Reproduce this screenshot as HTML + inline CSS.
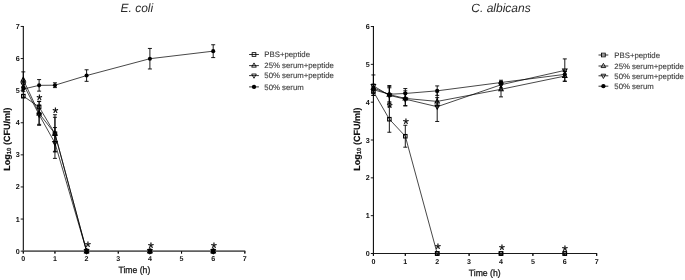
<!DOCTYPE html>
<html><head><meta charset="utf-8"><title>Growth curves</title>
<style>
html,body{margin:0;padding:0;background:#fff;}
body{width:685px;height:280px;overflow:hidden;font-family:"Liberation Sans", sans-serif;}
svg{display:block;opacity:0.999;will-change:transform;}
text{text-rendering:geometricPrecision;}
</style></head><body>
<svg width="685" height="280" viewBox="0 0 685 280">
<rect width="685" height="280" fill="#fff"/>
<path d="M23.30,26.05V251.15" stroke="#000" stroke-width="1.05" fill="none"/>
<path d="M20.70,251.15H23.30" stroke="#000" stroke-width="0.9"/>
<text x="19.70" y="253.65" font-size="7.2" font-weight="bold" text-anchor="end" fill="#111" font-family='"Liberation Sans", sans-serif'>0</text>
<path d="M20.70,219.05H23.30" stroke="#000" stroke-width="0.9"/>
<text x="19.70" y="221.55" font-size="7.2" font-weight="bold" text-anchor="end" fill="#111" font-family='"Liberation Sans", sans-serif'>1</text>
<path d="M20.70,186.95H23.30" stroke="#000" stroke-width="0.9"/>
<text x="19.70" y="189.45" font-size="7.2" font-weight="bold" text-anchor="end" fill="#111" font-family='"Liberation Sans", sans-serif'>2</text>
<path d="M20.70,154.85H23.30" stroke="#000" stroke-width="0.9"/>
<text x="19.70" y="157.35" font-size="7.2" font-weight="bold" text-anchor="end" fill="#111" font-family='"Liberation Sans", sans-serif'>3</text>
<path d="M20.70,122.75H23.30" stroke="#000" stroke-width="0.9"/>
<text x="19.70" y="125.25" font-size="7.2" font-weight="bold" text-anchor="end" fill="#111" font-family='"Liberation Sans", sans-serif'>4</text>
<path d="M20.70,90.65H23.30" stroke="#000" stroke-width="0.9"/>
<text x="19.70" y="93.15" font-size="7.2" font-weight="bold" text-anchor="end" fill="#111" font-family='"Liberation Sans", sans-serif'>5</text>
<path d="M20.70,58.55H23.30" stroke="#000" stroke-width="0.9"/>
<text x="19.70" y="61.05" font-size="7.2" font-weight="bold" text-anchor="end" fill="#111" font-family='"Liberation Sans", sans-serif'>6</text>
<path d="M20.70,26.45H23.30" stroke="#000" stroke-width="0.9"/>
<text x="19.70" y="28.95" font-size="7.2" font-weight="bold" text-anchor="end" fill="#111" font-family='"Liberation Sans", sans-serif'>7</text>
<path d="M23.30,251.15V253.55" stroke="#000" stroke-width="0.9"/>
<text x="23.30" y="260.95" font-size="7.1" font-weight="bold" text-anchor="middle" fill="#111" font-family='"Liberation Sans", sans-serif'>0</text>
<path d="M54.95,251.15V253.55" stroke="#000" stroke-width="0.9"/>
<text x="54.95" y="260.95" font-size="7.1" font-weight="bold" text-anchor="middle" fill="#111" font-family='"Liberation Sans", sans-serif'>1</text>
<path d="M86.60,251.15V253.55" stroke="#000" stroke-width="0.9"/>
<text x="86.60" y="260.95" font-size="7.1" font-weight="bold" text-anchor="middle" fill="#111" font-family='"Liberation Sans", sans-serif'>2</text>
<path d="M118.25,251.15V253.55" stroke="#000" stroke-width="0.9"/>
<text x="118.25" y="260.95" font-size="7.1" font-weight="bold" text-anchor="middle" fill="#111" font-family='"Liberation Sans", sans-serif'>3</text>
<path d="M149.90,251.15V253.55" stroke="#000" stroke-width="0.9"/>
<text x="149.90" y="260.95" font-size="7.1" font-weight="bold" text-anchor="middle" fill="#111" font-family='"Liberation Sans", sans-serif'>4</text>
<path d="M181.55,251.15V253.55" stroke="#000" stroke-width="0.9"/>
<text x="181.55" y="260.95" font-size="7.1" font-weight="bold" text-anchor="middle" fill="#111" font-family='"Liberation Sans", sans-serif'>5</text>
<path d="M213.20,251.15V253.55" stroke="#000" stroke-width="0.9"/>
<text x="213.20" y="260.95" font-size="7.1" font-weight="bold" text-anchor="middle" fill="#111" font-family='"Liberation Sans", sans-serif'>6</text>
<path d="M244.85,251.15V253.55" stroke="#000" stroke-width="0.9"/>
<text x="244.85" y="260.95" font-size="7.1" font-weight="bold" text-anchor="middle" fill="#111" font-family='"Liberation Sans", sans-serif'>7</text>
<path d="M23.30,89.05 L39.12,85.35 L54.95,85.19 L86.60,75.56 L149.90,58.71 L213.20,51.17" fill="none" stroke="#000" stroke-width="0.72" stroke-linejoin="round"/>
<path d="M23.30,96.11 L39.12,107.02 L54.95,133.66 L86.60,251.15" fill="none" stroke="#000" stroke-width="0.72" stroke-linejoin="round"/>
<path d="M23.30,79.74 L39.12,113.44 L54.95,133.66 L86.60,251.15" fill="none" stroke="#000" stroke-width="0.72" stroke-linejoin="round"/>
<path d="M23.30,84.23 L39.12,114.72 L54.95,142.97 L86.60,251.15" fill="none" stroke="#000" stroke-width="0.72" stroke-linejoin="round"/>
<path d="M23.30,86.48V91.61M21.30,86.48H25.30M21.30,91.61H25.30" fill="none" stroke="#000" stroke-width="0.9"/>
<path d="M39.12,79.58V91.13M37.12,79.58H41.12M37.12,91.13H41.12" fill="none" stroke="#000" stroke-width="0.9"/>
<path d="M54.95,82.79V87.60M52.95,82.79H56.95M52.95,87.60H56.95" fill="none" stroke="#000" stroke-width="0.9"/>
<path d="M86.60,69.79V81.34M84.60,69.79H88.60M84.60,81.34H88.60" fill="none" stroke="#000" stroke-width="0.9"/>
<path d="M149.90,48.44V68.98M147.90,48.44H151.90M147.90,68.98H151.90" fill="none" stroke="#000" stroke-width="0.9"/>
<path d="M213.20,44.75V57.59M211.20,44.75H215.20M211.20,57.59H215.20" fill="none" stroke="#000" stroke-width="0.9"/>
<path d="M23.30,94.50V97.71M21.30,94.50H25.30M21.30,97.71H25.30" fill="none" stroke="#000" stroke-width="0.9"/>
<path d="M39.12,101.24V112.80M37.12,101.24H41.12M37.12,112.80H41.12" fill="none" stroke="#000" stroke-width="0.9"/>
<path d="M54.95,117.29V151.32M52.95,117.29H56.95M52.95,151.32H56.95" fill="none" stroke="#000" stroke-width="0.9"/>
<path d="M23.30,71.87V87.60M21.30,71.87H25.30M21.30,87.60H25.30" fill="none" stroke="#000" stroke-width="0.9"/>
<path d="M39.12,101.56V125.32M37.12,101.56H41.12M37.12,125.32H41.12" fill="none" stroke="#000" stroke-width="0.9"/>
<path d="M54.95,114.72V151.96M52.95,114.72H56.95M52.95,151.96H56.95" fill="none" stroke="#000" stroke-width="0.9"/>
<path d="M23.30,81.02V87.44M21.30,81.02H25.30M21.30,87.44H25.30" fill="none" stroke="#000" stroke-width="0.9"/>
<path d="M39.12,105.09V124.35M37.12,105.09H41.12M37.12,124.35H41.12" fill="none" stroke="#000" stroke-width="0.9"/>
<path d="M54.95,127.56V158.38M52.95,127.56H56.95M52.95,158.38H56.95" fill="none" stroke="#000" stroke-width="0.9"/>
<circle cx="23.30" cy="89.05" r="2.05" fill="#000"/>
<circle cx="39.12" cy="85.35" r="2.05" fill="#000"/>
<circle cx="54.95" cy="85.19" r="2.05" fill="#000"/>
<circle cx="86.60" cy="75.56" r="2.05" fill="#000"/>
<circle cx="149.90" cy="58.71" r="2.05" fill="#000"/>
<circle cx="213.20" cy="51.17" r="2.05" fill="#000"/>
<rect x="21.55" y="94.36" width="3.50" height="3.50" fill="none" stroke="#000" stroke-width="1.05"/>
<rect x="37.38" y="105.27" width="3.50" height="3.50" fill="none" stroke="#000" stroke-width="1.05"/>
<rect x="53.20" y="131.91" width="3.50" height="3.50" fill="none" stroke="#000" stroke-width="1.05"/>
<rect x="84.85" y="249.40" width="3.50" height="3.50" fill="none" stroke="#000" stroke-width="1.05"/>
<rect x="148.15" y="249.40" width="3.50" height="3.50" fill="none" stroke="#000" stroke-width="1.05"/>
<rect x="211.45" y="249.40" width="3.50" height="3.50" fill="none" stroke="#000" stroke-width="1.05"/>
<polygon points="23.30,77.20 25.49,81.22 21.11,81.22" fill="none" stroke="#000" stroke-width="1.05" stroke-linejoin="miter"/>
<polygon points="39.12,110.90 41.31,114.93 36.94,114.93" fill="none" stroke="#000" stroke-width="1.05" stroke-linejoin="miter"/>
<polygon points="54.95,131.13 57.14,135.15 52.76,135.15" fill="none" stroke="#000" stroke-width="1.05" stroke-linejoin="miter"/>
<polygon points="86.60,248.61 88.79,252.64 84.41,252.64" fill="none" stroke="#000" stroke-width="1.05" stroke-linejoin="miter"/>
<polygon points="149.90,248.61 152.09,252.64 147.71,252.64" fill="none" stroke="#000" stroke-width="1.05" stroke-linejoin="miter"/>
<polygon points="213.20,248.61 215.39,252.64 211.01,252.64" fill="none" stroke="#000" stroke-width="1.05" stroke-linejoin="miter"/>
<polygon points="23.30,86.77 25.49,82.74 21.11,82.74" fill="none" stroke="#000" stroke-width="1.05" stroke-linejoin="miter"/>
<polygon points="39.12,117.26 41.31,113.24 36.94,113.24" fill="none" stroke="#000" stroke-width="1.05" stroke-linejoin="miter"/>
<polygon points="54.95,145.51 57.14,141.49 52.76,141.49" fill="none" stroke="#000" stroke-width="1.05" stroke-linejoin="miter"/>
<polygon points="86.60,253.69 88.79,249.66 84.41,249.66" fill="none" stroke="#000" stroke-width="1.05" stroke-linejoin="miter"/>
<polygon points="149.90,253.69 152.09,249.66 147.71,249.66" fill="none" stroke="#000" stroke-width="1.05" stroke-linejoin="miter"/>
<polygon points="213.20,253.69 215.39,249.66 211.01,249.66" fill="none" stroke="#000" stroke-width="1.05" stroke-linejoin="miter"/>
<path d="M22.80,251.15H245.25" stroke="#606060" stroke-width="1.6" fill="none"/>
<path d="M23.30,251.15V253.55" stroke="#000" stroke-width="0.9"/>
<path d="M54.95,251.15V253.55" stroke="#000" stroke-width="0.9"/>
<path d="M86.60,251.15V253.55" stroke="#000" stroke-width="0.9"/>
<path d="M118.25,251.15V253.55" stroke="#000" stroke-width="0.9"/>
<path d="M149.90,251.15V253.55" stroke="#000" stroke-width="0.9"/>
<path d="M181.55,251.15V253.55" stroke="#000" stroke-width="0.9"/>
<path d="M213.20,251.15V253.55" stroke="#000" stroke-width="0.9"/>
<path d="M244.85,251.15V253.55" stroke="#000" stroke-width="0.9"/>
<rect x="84.40" y="248.65" width="4.4" height="5.0" rx="1.2" fill="#000"/>
<rect x="147.70" y="248.65" width="4.4" height="5.0" rx="1.2" fill="#000"/>
<rect x="211.00" y="248.65" width="4.4" height="5.0" rx="1.2" fill="#000"/>
<text x="39.40" y="105.20" font-size="15" text-anchor="middle" fill="#000" stroke="#000" stroke-width="0.2" font-family='"Liberation Sans", sans-serif'>*</text>
<text x="55.30" y="118.40" font-size="15" text-anchor="middle" fill="#000" stroke="#000" stroke-width="0.2" font-family='"Liberation Sans", sans-serif'>*</text>
<text x="87.90" y="251.90" font-size="15" text-anchor="middle" fill="#000" stroke="#000" stroke-width="0.2" font-family='"Liberation Sans", sans-serif'>*</text>
<text x="151.00" y="252.90" font-size="15" text-anchor="middle" fill="#000" stroke="#000" stroke-width="0.2" font-family='"Liberation Sans", sans-serif'>*</text>
<text x="213.80" y="253.20" font-size="15" text-anchor="middle" fill="#000" stroke="#000" stroke-width="0.2" font-family='"Liberation Sans", sans-serif'>*</text>
<text transform="translate(9.70,139.20) rotate(-90)" font-size="9" font-weight="bold" text-anchor="middle" fill="#111" stroke="#111" stroke-width="0.15" font-family='"Liberation Sans", sans-serif'>Log<tspan font-size="6" dy="1.6">10</tspan><tspan dy="-1.6"> (CFU/ml)</tspan></text>
<text x="134.40" y="272.90" font-size="9.2" text-anchor="middle" fill="#222" stroke="#222" stroke-width="0.32" font-family='"Liberation Sans", sans-serif' textLength="31.8" lengthAdjust="spacingAndGlyphs">Time (h)</text>
<text x="136.80" y="12" font-size="12" font-style="italic" text-anchor="middle" fill="#2a2a2a" font-family='"Liberation Sans", sans-serif'>E. coli</text>
<path d="M249.10,54.50H258.90" stroke="#000" stroke-width="0.8"/>
<rect x="252.15" y="52.65" width="3.70" height="3.70" fill="none" stroke="#000" stroke-width="0.85"/>
<text x="264.30" y="57.30" font-size="7.8" fill="#3c3c3c" stroke="#3c3c3c" stroke-width="0.12" font-family='"Liberation Sans", sans-serif'>PBS+peptide</text>
<path d="M249.10,65.60H258.90" stroke="#000" stroke-width="0.8"/>
<polygon points="254.00,62.92 256.31,67.17 251.69,67.17" fill="none" stroke="#000" stroke-width="0.85" stroke-linejoin="miter"/>
<text x="264.30" y="68.40" font-size="7.8" fill="#3c3c3c" stroke="#3c3c3c" stroke-width="0.12" font-family='"Liberation Sans", sans-serif'>25% serum+peptide</text>
<path d="M249.10,75.60H258.90" stroke="#000" stroke-width="0.8"/>
<polygon points="254.00,78.28 256.31,74.03 251.69,74.03" fill="none" stroke="#000" stroke-width="0.85" stroke-linejoin="miter"/>
<text x="264.30" y="78.40" font-size="7.8" fill="#3c3c3c" stroke="#3c3c3c" stroke-width="0.12" font-family='"Liberation Sans", sans-serif'>50% serum+peptide</text>
<path d="M249.10,86.90H258.90" stroke="#000" stroke-width="0.8"/>
<circle cx="254.00" cy="86.90" r="2.15" fill="#000"/>
<text x="264.30" y="89.70" font-size="7.8" fill="#3c3c3c" stroke="#3c3c3c" stroke-width="0.12" font-family='"Liberation Sans", sans-serif'>50% serum</text>
<path d="M373.40,26.12V253.50" stroke="#000" stroke-width="1.05" fill="none"/>
<path d="M370.80,253.50H373.40" stroke="#000" stroke-width="0.9"/>
<text x="369.80" y="256.00" font-size="7.2" font-weight="bold" text-anchor="end" fill="#111" font-family='"Liberation Sans", sans-serif'>0</text>
<path d="M370.80,215.67H373.40" stroke="#000" stroke-width="0.9"/>
<text x="369.80" y="218.17" font-size="7.2" font-weight="bold" text-anchor="end" fill="#111" font-family='"Liberation Sans", sans-serif'>1</text>
<path d="M370.80,177.84H373.40" stroke="#000" stroke-width="0.9"/>
<text x="369.80" y="180.34" font-size="7.2" font-weight="bold" text-anchor="end" fill="#111" font-family='"Liberation Sans", sans-serif'>2</text>
<path d="M370.80,140.01H373.40" stroke="#000" stroke-width="0.9"/>
<text x="369.80" y="142.51" font-size="7.2" font-weight="bold" text-anchor="end" fill="#111" font-family='"Liberation Sans", sans-serif'>3</text>
<path d="M370.80,102.18H373.40" stroke="#000" stroke-width="0.9"/>
<text x="369.80" y="104.68" font-size="7.2" font-weight="bold" text-anchor="end" fill="#111" font-family='"Liberation Sans", sans-serif'>4</text>
<path d="M370.80,64.35H373.40" stroke="#000" stroke-width="0.9"/>
<text x="369.80" y="66.85" font-size="7.2" font-weight="bold" text-anchor="end" fill="#111" font-family='"Liberation Sans", sans-serif'>5</text>
<path d="M370.80,26.52H373.40" stroke="#000" stroke-width="0.9"/>
<text x="369.80" y="29.02" font-size="7.2" font-weight="bold" text-anchor="end" fill="#111" font-family='"Liberation Sans", sans-serif'>6</text>
<path d="M373.40,253.50V255.90" stroke="#000" stroke-width="0.9"/>
<text x="373.40" y="264.20" font-size="7.1" font-weight="bold" text-anchor="middle" fill="#111" font-family='"Liberation Sans", sans-serif'>0</text>
<path d="M405.30,253.50V255.90" stroke="#000" stroke-width="0.9"/>
<text x="405.30" y="264.20" font-size="7.1" font-weight="bold" text-anchor="middle" fill="#111" font-family='"Liberation Sans", sans-serif'>1</text>
<path d="M437.20,253.50V255.90" stroke="#000" stroke-width="0.9"/>
<text x="437.20" y="264.20" font-size="7.1" font-weight="bold" text-anchor="middle" fill="#111" font-family='"Liberation Sans", sans-serif'>2</text>
<path d="M469.10,253.50V255.90" stroke="#000" stroke-width="0.9"/>
<text x="469.10" y="264.20" font-size="7.1" font-weight="bold" text-anchor="middle" fill="#111" font-family='"Liberation Sans", sans-serif'>3</text>
<path d="M501.00,253.50V255.90" stroke="#000" stroke-width="0.9"/>
<text x="501.00" y="264.20" font-size="7.1" font-weight="bold" text-anchor="middle" fill="#111" font-family='"Liberation Sans", sans-serif'>4</text>
<path d="M532.90,253.50V255.90" stroke="#000" stroke-width="0.9"/>
<text x="532.90" y="264.20" font-size="7.1" font-weight="bold" text-anchor="middle" fill="#111" font-family='"Liberation Sans", sans-serif'>5</text>
<path d="M564.80,253.50V255.90" stroke="#000" stroke-width="0.9"/>
<text x="564.80" y="264.20" font-size="7.1" font-weight="bold" text-anchor="middle" fill="#111" font-family='"Liberation Sans", sans-serif'>6</text>
<path d="M596.70,253.50V255.90" stroke="#000" stroke-width="0.9"/>
<text x="596.70" y="264.20" font-size="7.1" font-weight="bold" text-anchor="middle" fill="#111" font-family='"Liberation Sans", sans-serif'>7</text>
<path d="M373.40,89.70 L389.35,94.24 L405.30,93.48 L437.20,90.83 L501.00,82.51 L564.80,74.37" fill="none" stroke="#000" stroke-width="0.72" stroke-linejoin="round"/>
<path d="M373.40,91.59 L389.35,119.20 L405.30,136.23 L437.20,253.50" fill="none" stroke="#000" stroke-width="0.72" stroke-linejoin="round"/>
<path d="M373.40,87.80 L389.35,94.61 L405.30,98.40 L437.20,101.42 L501.00,89.32 L564.80,76.08" fill="none" stroke="#000" stroke-width="0.72" stroke-linejoin="round"/>
<path d="M373.40,85.91 L389.35,95.37 L405.30,99.15 L437.20,106.72 L501.00,84.78 L564.80,70.40" fill="none" stroke="#000" stroke-width="0.72" stroke-linejoin="round"/>
<path d="M373.40,86.67V92.72M371.40,86.67H375.40M371.40,92.72H375.40" fill="none" stroke="#000" stroke-width="0.9"/>
<path d="M389.35,86.67V101.80M387.35,86.67H391.35M387.35,101.80H391.35" fill="none" stroke="#000" stroke-width="0.9"/>
<path d="M405.30,88.56V99.15M403.30,88.56H407.30M403.30,99.15H407.30" fill="none" stroke="#000" stroke-width="0.9"/>
<path d="M437.20,85.91V95.37M435.20,85.91H439.20M435.20,95.37H439.20" fill="none" stroke="#000" stroke-width="0.9"/>
<path d="M501.00,80.24V84.78M499.00,80.24H503.00M499.00,84.78H503.00" fill="none" stroke="#000" stroke-width="0.9"/>
<path d="M564.80,71.35V77.40M562.80,71.35H566.80M562.80,77.40H566.80" fill="none" stroke="#000" stroke-width="0.9"/>
<path d="M373.40,87.80V95.37M371.40,87.80H375.40M371.40,95.37H375.40" fill="none" stroke="#000" stroke-width="0.9"/>
<path d="M389.35,106.15V132.25M387.35,106.15H391.35M387.35,132.25H391.35" fill="none" stroke="#000" stroke-width="0.9"/>
<path d="M405.30,125.26V147.20M403.30,125.26H407.30M403.30,147.20H407.30" fill="none" stroke="#000" stroke-width="0.9"/>
<path d="M373.40,84.02V95.37M371.40,84.02H375.40M371.40,95.37H375.40" fill="none" stroke="#000" stroke-width="0.9"/>
<path d="M389.35,85.53V103.69M387.35,85.53H391.35M387.35,103.69H391.35" fill="none" stroke="#000" stroke-width="0.9"/>
<path d="M405.30,90.83V105.96M403.30,90.83H407.30M403.30,105.96H407.30" fill="none" stroke="#000" stroke-width="0.9"/>
<path d="M437.20,97.64V105.21M435.20,97.64H439.20M435.20,105.21H439.20" fill="none" stroke="#000" stroke-width="0.9"/>
<path d="M501.00,81.75V96.88M499.00,81.75H503.00M499.00,96.88H503.00" fill="none" stroke="#000" stroke-width="0.9"/>
<path d="M564.80,71.54V81.26M562.80,71.54H566.80M562.80,81.26H566.80" fill="none" stroke="#000" stroke-width="0.9"/>
<path d="M373.40,74.94V89.70M371.40,74.94H375.40M371.40,89.70H375.40" fill="none" stroke="#000" stroke-width="0.9"/>
<path d="M389.35,87.80V102.94M387.35,87.80H391.35M387.35,102.94H391.35" fill="none" stroke="#000" stroke-width="0.9"/>
<path d="M405.30,92.72V105.58M403.30,92.72H407.30M403.30,105.58H407.30" fill="none" stroke="#000" stroke-width="0.9"/>
<path d="M437.20,91.97V121.47M435.20,91.97H439.20M435.20,121.47H439.20" fill="none" stroke="#000" stroke-width="0.9"/>
<path d="M501.00,81.75V87.80M499.00,81.75H503.00M499.00,87.80H503.00" fill="none" stroke="#000" stroke-width="0.9"/>
<path d="M564.80,58.90V81.26M562.80,58.90H566.80M562.80,81.26H566.80" fill="none" stroke="#000" stroke-width="0.9"/>
<circle cx="373.40" cy="89.70" r="2.05" fill="#000"/>
<circle cx="389.35" cy="94.24" r="2.05" fill="#000"/>
<circle cx="405.30" cy="93.48" r="2.05" fill="#000"/>
<circle cx="437.20" cy="90.83" r="2.05" fill="#000"/>
<circle cx="501.00" cy="82.51" r="2.05" fill="#000"/>
<circle cx="564.80" cy="74.37" r="2.05" fill="#000"/>
<rect x="371.65" y="89.84" width="3.50" height="3.50" fill="none" stroke="#000" stroke-width="1.05"/>
<rect x="387.60" y="117.45" width="3.50" height="3.50" fill="none" stroke="#000" stroke-width="1.05"/>
<rect x="403.55" y="134.48" width="3.50" height="3.50" fill="none" stroke="#000" stroke-width="1.05"/>
<rect x="435.45" y="251.75" width="3.50" height="3.50" fill="none" stroke="#000" stroke-width="1.05"/>
<rect x="499.25" y="251.75" width="3.50" height="3.50" fill="none" stroke="#000" stroke-width="1.05"/>
<rect x="563.05" y="251.75" width="3.50" height="3.50" fill="none" stroke="#000" stroke-width="1.05"/>
<polygon points="373.40,85.27 375.59,89.29 371.21,89.29" fill="none" stroke="#000" stroke-width="1.05" stroke-linejoin="miter"/>
<polygon points="389.35,92.08 391.54,96.10 387.16,96.10" fill="none" stroke="#000" stroke-width="1.05" stroke-linejoin="miter"/>
<polygon points="405.30,95.86 407.49,99.88 403.11,99.88" fill="none" stroke="#000" stroke-width="1.05" stroke-linejoin="miter"/>
<polygon points="437.20,98.89 439.39,102.91 435.01,102.91" fill="none" stroke="#000" stroke-width="1.05" stroke-linejoin="miter"/>
<polygon points="501.00,86.78 503.19,90.81 498.81,90.81" fill="none" stroke="#000" stroke-width="1.05" stroke-linejoin="miter"/>
<polygon points="564.80,73.54 566.99,77.56 562.61,77.56" fill="none" stroke="#000" stroke-width="1.05" stroke-linejoin="miter"/>
<polygon points="373.40,88.45 375.59,84.43 371.21,84.43" fill="none" stroke="#000" stroke-width="1.05" stroke-linejoin="miter"/>
<polygon points="389.35,97.91 391.54,93.88 387.16,93.88" fill="none" stroke="#000" stroke-width="1.05" stroke-linejoin="miter"/>
<polygon points="405.30,101.69 407.49,97.67 403.11,97.67" fill="none" stroke="#000" stroke-width="1.05" stroke-linejoin="miter"/>
<polygon points="437.20,109.26 439.39,105.23 435.01,105.23" fill="none" stroke="#000" stroke-width="1.05" stroke-linejoin="miter"/>
<polygon points="501.00,87.32 503.19,83.29 498.81,83.29" fill="none" stroke="#000" stroke-width="1.05" stroke-linejoin="miter"/>
<polygon points="564.80,72.94 566.99,68.92 562.61,68.92" fill="none" stroke="#000" stroke-width="1.05" stroke-linejoin="miter"/>
<path d="M372.90,253.50H597.10" stroke="#1a1a1a" stroke-width="1.0" fill="none"/>
<path d="M373.40,253.50V255.90" stroke="#000" stroke-width="0.9"/>
<path d="M405.30,253.50V255.90" stroke="#000" stroke-width="0.9"/>
<path d="M437.20,253.50V255.90" stroke="#000" stroke-width="0.9"/>
<path d="M469.10,253.50V255.90" stroke="#000" stroke-width="0.9"/>
<path d="M501.00,253.50V255.90" stroke="#000" stroke-width="0.9"/>
<path d="M532.90,253.50V255.90" stroke="#000" stroke-width="0.9"/>
<path d="M564.80,253.50V255.90" stroke="#000" stroke-width="0.9"/>
<path d="M596.70,253.50V255.90" stroke="#000" stroke-width="0.9"/>
<rect x="435.45" y="251.75" width="3.50" height="3.50" fill="none" stroke="#000" stroke-width="1.05"/>
<rect x="499.25" y="251.75" width="3.50" height="3.50" fill="none" stroke="#000" stroke-width="1.05"/>
<rect x="563.05" y="251.75" width="3.50" height="3.50" fill="none" stroke="#000" stroke-width="1.05"/>
<text x="389.70" y="112.90" font-size="15" text-anchor="middle" fill="#000" stroke="#000" stroke-width="0.2" font-family='"Liberation Sans", sans-serif'>*</text>
<text x="406.00" y="129.20" font-size="15" text-anchor="middle" fill="#000" stroke="#000" stroke-width="0.2" font-family='"Liberation Sans", sans-serif'>*</text>
<text x="437.90" y="253.50" font-size="15" text-anchor="middle" fill="#000" stroke="#000" stroke-width="0.2" font-family='"Liberation Sans", sans-serif'>*</text>
<text x="502.00" y="255.10" font-size="15" text-anchor="middle" fill="#000" stroke="#000" stroke-width="0.2" font-family='"Liberation Sans", sans-serif'>*</text>
<text x="565.00" y="255.60" font-size="15" text-anchor="middle" fill="#000" stroke="#000" stroke-width="0.2" font-family='"Liberation Sans", sans-serif'>*</text>
<text transform="translate(359.70,139.20) rotate(-90)" font-size="9" font-weight="bold" text-anchor="middle" fill="#111" stroke="#111" stroke-width="0.15" font-family='"Liberation Sans", sans-serif'>Log<tspan font-size="6" dy="1.6">10</tspan><tspan dy="-1.6"> (CFU/ml)</tspan></text>
<text x="484.70" y="276.00" font-size="9.2" text-anchor="middle" fill="#222" stroke="#222" stroke-width="0.32" font-family='"Liberation Sans", sans-serif' textLength="31.8" lengthAdjust="spacingAndGlyphs">Time (h)</text>
<text x="501.00" y="12" font-size="12" font-style="italic" text-anchor="middle" fill="#2a2a2a" font-family='"Liberation Sans", sans-serif'>C. albicans</text>
<path d="M598.50,55.00H608.30" stroke="#000" stroke-width="0.8"/>
<rect x="601.55" y="53.15" width="3.70" height="3.70" fill="none" stroke="#000" stroke-width="0.85"/>
<text x="614.30" y="57.80" font-size="7.8" fill="#3c3c3c" stroke="#3c3c3c" stroke-width="0.12" font-family='"Liberation Sans", sans-serif'>PBS+peptide</text>
<path d="M598.50,66.00H608.30" stroke="#000" stroke-width="0.8"/>
<polygon points="603.40,63.32 605.71,67.57 601.09,67.57" fill="none" stroke="#000" stroke-width="0.85" stroke-linejoin="miter"/>
<text x="614.30" y="68.80" font-size="7.8" fill="#3c3c3c" stroke="#3c3c3c" stroke-width="0.12" font-family='"Liberation Sans", sans-serif'>25% serum+peptide</text>
<path d="M598.50,75.80H608.30" stroke="#000" stroke-width="0.8"/>
<polygon points="603.40,78.48 605.71,74.23 601.09,74.23" fill="none" stroke="#000" stroke-width="0.85" stroke-linejoin="miter"/>
<text x="614.30" y="78.60" font-size="7.8" fill="#3c3c3c" stroke="#3c3c3c" stroke-width="0.12" font-family='"Liberation Sans", sans-serif'>50% serum+peptide</text>
<path d="M598.50,86.20H608.30" stroke="#000" stroke-width="0.8"/>
<circle cx="603.40" cy="86.20" r="2.15" fill="#000"/>
<text x="614.30" y="89.00" font-size="7.8" fill="#3c3c3c" stroke="#3c3c3c" stroke-width="0.12" font-family='"Liberation Sans", sans-serif'>50% serum</text>
</svg>
</body></html>
